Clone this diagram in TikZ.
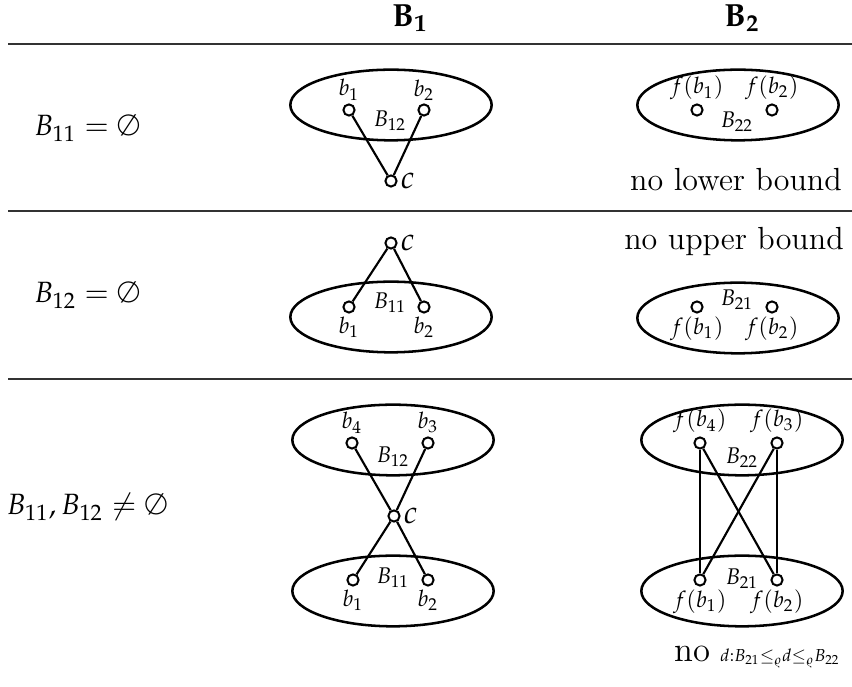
\documentclass[tikz,border=0pt]{standalone}
\usepackage{mathpazo}
\usetikzlibrary{shapes.geometric}
\begin{document}
\begin{tikzpicture}[x=0.375pt,y=-0.375pt,
  big/.style={font=\fontsize{12}{14}\selectfont,inner sep=0pt},
  row/.style={font=\fontsize{11}{13}\selectfont,inner sep=0pt},
  lbl/.style={font=\fontsize{8.5}{10}\selectfont,inner sep=1pt},
  vtx/.style={circle,draw,fill=white,line width=0.75pt,inner sep=0pt,minimum size=4.2pt},
  setel/.style={ellipse,draw,line width=0.95pt,inner sep=0pt,minimum width=75.5pt,minimum height=26.5pt},
  edge/.style={line width=0.8pt},
  rule/.style={line width=0.55pt,draw=black!80}]
\useasboundingbox (0,0) rectangle (852,687);
% header
\node[big] (h1) at (410,18) {$\mathbf{B}_{\mathbf{1}}$};
\node[big] (h2) at (742,18) {$\mathbf{B}_{\mathbf{2}}$};
\coordinate (r1a) at (8,44); \coordinate (r1b) at (852,44);
\coordinate (r2a) at (8,211); \coordinate (r2b) at (852,211);
\coordinate (r3a) at (8,379); \coordinate (r3b) at (852,379);
\draw[rule] (r1a) -- (r1b);
\draw[rule] (r2a) -- (r2b);
\draw[rule] (r3a) -- (r3b);
% row labels
\node[row] (l1) at (87,128) {$B_{11}=\emptyset$};
\node[row] (l2) at (87,295) {$B_{12}=\emptyset$};
\node[row] (l3) at (87,507) {$B_{11},B_{12}\neq\emptyset$};
% ---- row 1 left
\node[setel] (e1) at (391,105) {};
\node[lbl] (e1n) at (390,121) {$B_{12}$};
\node[vtx,label={[lbl]above:$b_1$}] (a1) at (349,110) {};
\node[vtx,label={[lbl]above:$b_2$}] (a2) at (424,110) {};
\node[vtx,label={[big,xshift=1pt]right:$c$}] (ac) at (391,181) {};
\draw[edge] (a1) -- (ac);
\draw[edge] (a2) -- (ac);
% ---- row 1 right
\node[setel] (e2) at (738,105) {};
\node[lbl] (e2n) at (737,122) {$B_{22}$};
\node[vtx,label={[lbl]above:$f(b_1)$}] (fa1) at (697,110) {};
\node[vtx,label={[lbl]above:$f(b_2)$}] (fa2) at (772,110) {};
\node[big] (nlb) at (736,180) {no lower bound};
% ---- row 2 left
\node[setel] (e3) at (391,317) {};
\node[lbl] (e3n) at (390,303) {$B_{11}$};
\node[vtx,label={[lbl]below:$b_1$}] (b1) at (349,307) {};
\node[vtx,label={[lbl]below:$b_2$}] (b2) at (424,307) {};
\node[vtx,label={[big,xshift=1pt]right:$c$}] (bc) at (391,243) {};
\draw[edge] (b1) -- (bc);
\draw[edge] (b2) -- (bc);
% ---- row 2 right
\node[big] (nub) at (734,242) {no upper bound};
\node[setel] (e4) at (738,318) {};
\node[lbl] (e4n) at (737,300) {$B_{21}$};
\node[vtx,label={[lbl]below:$f(b_1)$}] (fb1) at (697,307) {};
\node[vtx,label={[lbl]below:$f(b_2)$}] (fb2) at (772,307) {};
% ---- row 3 left
\node[setel] (e5) at (393,440) {};
\node[setel] (e6) at (393,591) {};
\node[lbl] (e5n) at (393,457) {$B_{12}$};
\node[lbl] (e6n) at (393,578) {$B_{11}$};
\node[vtx,label={[lbl]above:$b_4$}] (c4) at (352,443) {};
\node[vtx,label={[lbl]above:$b_3$}] (c3) at (428,443) {};
\node[vtx,label={[lbl]below:$b_1$}] (c1) at (353,580) {};
\node[vtx,label={[lbl]below:$b_2$}] (c2) at (428,580) {};
\node[vtx,label={[big,xshift=1pt]right:$c$}] (cc) at (394,516) {};
\draw[edge] (c4) -- (cc);
\draw[edge] (c3) -- (cc);
\draw[edge] (c1) -- (cc);
\draw[edge] (c2) -- (cc);
% ---- row 3 right
\node[setel] (e7) at (742,440) {};
\node[setel] (e8) at (742,591) {};
\node[lbl] (e7n) at (742,458) {$B_{22}$};
\node[lbl] (e8n) at (742,579) {$B_{21}$};
\node[vtx,label={[lbl]above:$f(b_4)$}] (d4) at (700,443) {};
\node[vtx,label={[lbl]above:$f(b_3)$}] (d3) at (777,443) {};
\node[vtx,label={[lbl]below:$f(b_1)$}] (d1) at (700,580) {};
\node[vtx,label={[lbl]below:$f(b_2)$}] (d2) at (777,580) {};
\draw[edge] (d4) -- (d1);
\draw[edge] (d4) -- (d2);
\draw[edge] (d3) -- (d1);
\draw[edge] (d3) -- (d2);
\node[big] (nod) at (757,657) {{\fontsize{13}{14}\selectfont no} {\fontsize{6.5}{8}\selectfont$d{:}B_{21}{\leq_{\varrho}}d{\leq_{\varrho}}B_{22}$}};
\end{tikzpicture}
\end{document}
